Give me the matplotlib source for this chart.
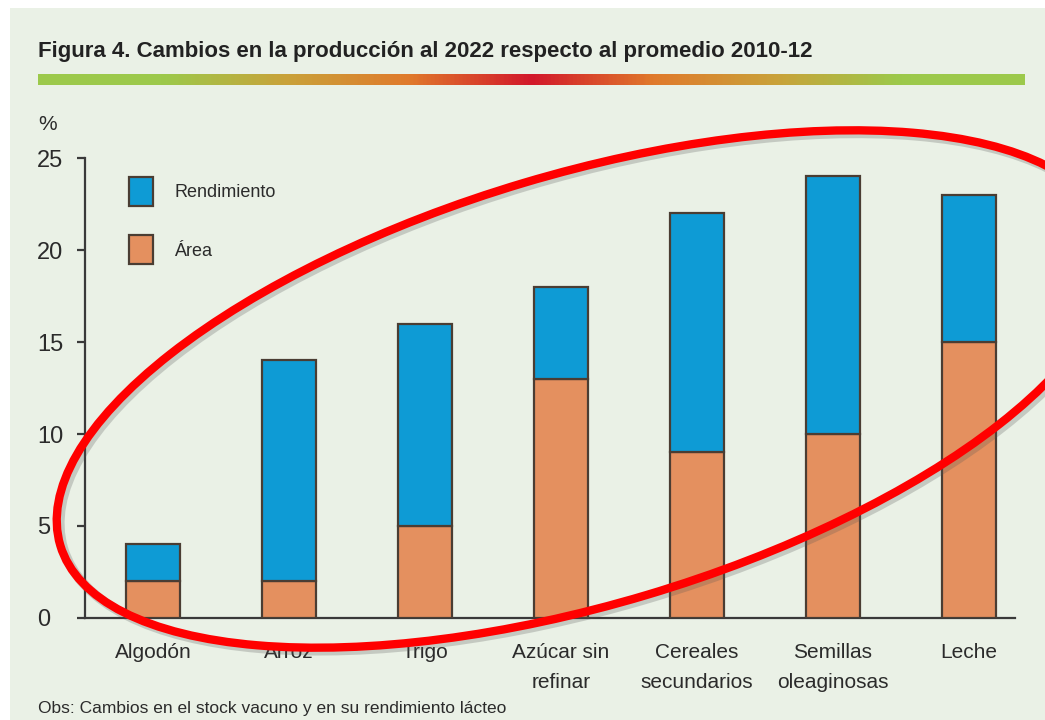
import numpy as np
import matplotlib
matplotlib.use("Agg")
import matplotlib.pyplot as plt
from matplotlib.patches import Ellipse, Rectangle, Patch
from matplotlib.colors import LinearSegmentedColormap

plt.rcParams['font.family'] = ['Liberation Sans', 'DejaVu Sans']

# datos de la figura (% de cambio)
productos = ['Algodón', 'Arroz', 'Trigo', 'Azúcar sin\nrefinar', 'Cereales\nsecundarios',
             'Semillas\noleaginosas', 'Leche']
area = [2, 2, 5, 13, 9, 10, 15]
rendimiento = [2, 12, 11, 5, 13, 14, 8]

fondo = '#EAF1E6'
azul = '#0E9BD5'
naranja = '#E4905F'
borde = '#4A3D33'
texto = '#2B2B2B'

fig = plt.figure(figsize=(10.45, 7.2), dpi=100, facecolor='white')
fig.patches.append(Rectangle((10 / 1045, 0), 1, 1 - 8 / 720, transform=fig.transFigure,
                             facecolor=fondo, edgecolor='none', zorder=-10))

# titulo y barra degradada
fig.text(38 / 1045, 1 - 51 / 720, 'Figura 4. Cambios en la producción al 2022 respecto al promedio 2010-12',
         fontsize=16, fontweight='bold', color='#222222', va='center', ha='left')
cmap = LinearSegmentedColormap.from_list('barra', ['#9CC94B', '#9CC94B', '#C9A23A', '#E07A2C',
                                                   '#D2182A', '#E07A2C', '#C9A23A', '#9CC94B', '#9CC94B'])
gax = fig.add_axes([38 / 1045, 1 - 85 / 720, (1025 - 38) / 1045, 11 / 720])
gax.imshow(np.linspace(0, 1, 500).reshape(1, -1), cmap=cmap, aspect='auto')
gax.axis('off')

fig.text(38 / 1045, 1 - 124 / 720, '%', fontsize=15, color=texto, va='center', ha='left')

ax = fig.add_axes([85 / 1045, 102 / 720, (1015 - 85) / 1045, 460 / 720])
ax.set_facecolor('none')
x = np.arange(len(productos))
ax.bar(x, area, width=0.4, color=naranja, edgecolor=borde, linewidth=1.6, zorder=3)
ax.bar(x, rendimiento, bottom=area, width=0.4, color=azul, edgecolor=borde, linewidth=1.6, zorder=3)

ax.set_xlim(-0.5, 6.34)
ax.set_ylim(0, 25)
ax.set_yticks([0, 5, 10, 15, 20, 25])
ax.set_xticks(x)
ax.set_xticklabels(productos, fontsize=15, color=texto, linespacing=1.75, va='top')
ax.tick_params(axis='x', length=0, pad=18)
# etiquetas del eje y alineadas a la izquierda
ax.tick_params(axis='y', direction='out', length=6, width=1.6, color='#3A3A3A',
               labelsize=17, labelcolor=texto, pad=28.5)
for lab in ax.get_yticklabels():
    lab.set_horizontalalignment('left')
for s in ['top', 'right']:
    ax.spines[s].set_visible(False)
for s in ['left', 'bottom']:
    ax.spines[s].set_color('#3A3A3A')
    ax.spines[s].set_linewidth(1.6)

handles = [Patch(facecolor=azul, edgecolor=borde, linewidth=1.6, label='Rendimiento'),
           Patch(facecolor=naranja, edgecolor=borde, linewidth=1.6, label='Área')]
ax.legend(handles=handles, loc='upper left', bbox_to_anchor=(0.03, 0.995), frameon=False,
          fontsize=13, handlelength=1.3, handleheight=2.1, labelspacing=1.65, handletextpad=1.2,
          labelcolor=texto)

fig.text(38 / 1045, 1 - 708 / 720, 'Obs: Cambios en el stock vacuno y en su rendimiento lácteo',
         fontsize=12.5, color=texto, va='center', ha='left')

# elipse roja de resaltado
over = fig.add_axes([0, 0, 1, 1], facecolor='none')
over.set_xlim(0, 1045)
over.set_ylim(720, 0)
over.axis('off')
over.add_patch(Ellipse((588, 392), 1095, 430, angle=-16.6, fill=False, edgecolor='#555555',
                       linewidth=7, alpha=0.25))
over.add_patch(Ellipse((585, 389), 1095, 430, angle=-16.6, fill=False, edgecolor='#FF0000',
                       linewidth=6))

fig.savefig('out.png', dpi=100, facecolor=fig.get_facecolor())
